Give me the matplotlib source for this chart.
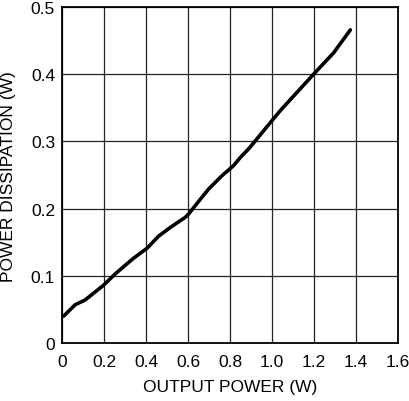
import numpy as np
import matplotlib
matplotlib.use('Agg')
import matplotlib.pyplot as plt

plt.rcParams.update({
    'font.family': ['Liberation Sans', 'DejaVu Sans'],
    'font.size': 12.5,
})

# Curva: potencia de salida vs disipación
output_power = [0.008, 0.063, 0.11, 0.198, 0.254, 0.34, 0.405, 0.46, 0.516,
                0.587, 0.603, 0.659, 0.698, 0.762, 0.817, 0.849, 0.889, 0.929,
                0.992, 1.04, 1.119, 1.198, 1.294, 1.373]
power_dissipation = [0.040, 0.057, 0.064, 0.086, 0.103, 0.126, 0.141, 0.159,
                     0.172, 0.187, 0.192, 0.214, 0.229, 0.249, 0.264, 0.276,
                     0.289, 0.304, 0.328, 0.346, 0.373, 0.400, 0.432, 0.466]

x_ticks = [0, 0.2, 0.4, 0.6, 0.8, 1.0, 1.2, 1.4, 1.6]
x_labels = ['0', '0.2', '0.4', '0.6', '0.8', '1.0', '1.2', '1.4', '1.6']
y_ticks = [0, 0.1, 0.2, 0.3, 0.4, 0.5]
y_labels = ['0', '0.1', '0.2', '0.3', '0.4', '0.5']

fig = plt.figure(figsize=(4.1, 4.02), dpi=100)
ax = fig.add_axes([62 / 410, 1 - 344 / 402, 336 / 410, 336 / 402])

ax.plot(output_power, power_dissipation, color='black', linewidth=2.6,
        solid_capstyle='round', zorder=3)

ax.set_xlim(0, 1.6)
ax.set_ylim(0, 0.5)
ax.set_xticks(x_ticks)
ax.set_xticklabels(x_labels)
ax.set_yticks(y_ticks)
ax.set_yticklabels(y_labels)
ax.tick_params(axis='x', length=0, pad=8)
ax.tick_params(axis='y', length=0, pad=5)
ax.grid(True, color='#222222', linewidth=0.9)
for s in ax.spines.values():
    s.set_linewidth(1.3)
    s.set_color('black')

ax.set_xlabel('OUTPUT POWER (W)')
ax.set_ylabel('POWER DISSIPATION (W)')
# posiciones de las etiquetas de ejes según la figura original
ax.xaxis.set_label_coords((230 - 62) / 336, -(388 - 344) / 336)
ax.yaxis.set_label_coords(-(62 - 9) / 336, (344 - 177) / 336)
ax.xaxis.label.set_va('center')
ax.yaxis.label.set_va('center')

fig.savefig('out.png', dpi=100)
